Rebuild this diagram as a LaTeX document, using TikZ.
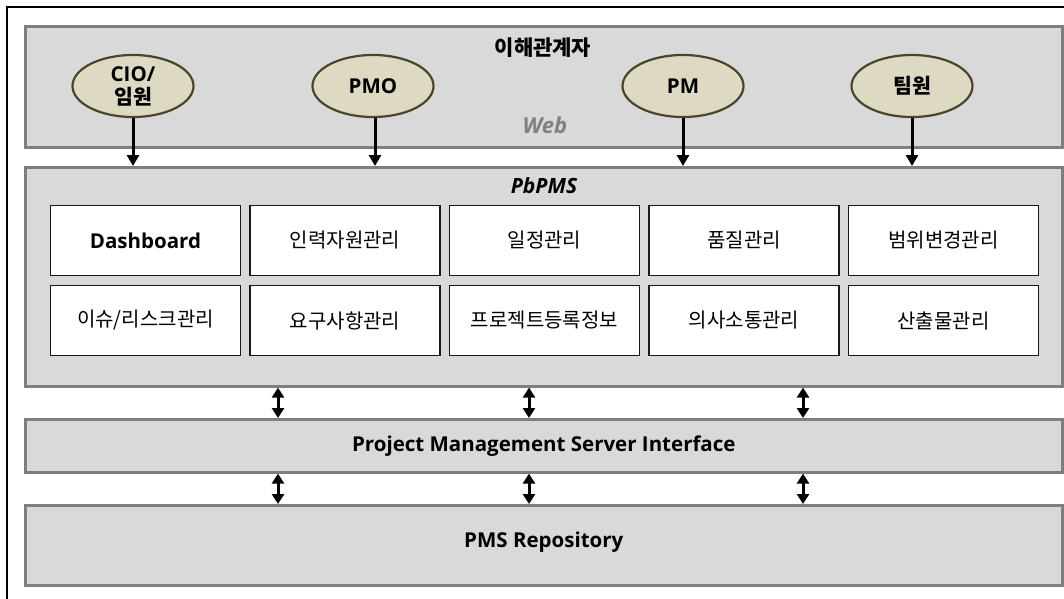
\documentclass[tikz,border=0pt]{standalone}
\usepackage{fontspec}
\setmainfont{Noto Sans CJK KR}[AutoFakeSlant=0.2]
\newfontfamily\latinfont{Open Sans}
\usetikzlibrary{arrows.meta,shapes.geometric,shadows}
\definecolor{panelfill}{HTML}{D9D9D9}
\definecolor{panelline}{HTML}{7F7F7F}
\definecolor{panelshade}{HTML}{A6A6A6}
\definecolor{actorfill}{HTML}{DDD9C3}
\definecolor{actorline}{HTML}{4A452A}
\definecolor{webgray}{HTML}{808080}

\begin{document}
\begin{tikzpicture}[x=1pt,y=-1pt,
  panel/.style={draw=panelline, line width=2.6pt, fill=panelfill, inner sep=0pt,
    anchor=north west, minimum width=1037pt,
    drop shadow={shadow xshift=1.6pt, shadow yshift=-1.6pt, fill=panelshade, opacity=1}},
  actor/.style={ellipse, draw=actorline, line width=2.2pt, fill=actorfill,
    minimum width=121pt, minimum height=62pt, inner sep=0pt,
    font=\bfseries\fontsize{20.5}{23}\selectfont, align=center},
  module/.style={draw=black!90, line width=1.6pt, fill=white,
    minimum width=190pt, minimum height=70pt, inner sep=0pt,
    font=\fontsize{20}{24}\selectfont},
  title/.style={font=\bfseries\fontsize{21}{24}\selectfont, inner sep=0pt},
  lbold/.style={font=\latinfont\bfseries\fontsize{20.5}{23}\selectfont},
  downarrow/.style={line width=3pt, -{Triangle[width=12pt,length=11pt]}},
  biarrow/.style={line width=3pt, {Triangle[width=12pt,length=10pt]}-{Triangle[width=12pt,length=10pt]}}
]
\useasboundingbox (0,0) rectangle (1064,598);
\clip (0,0) rectangle (1064,598);

% outer frame, open towards the right and bottom edges
\draw[line width=2pt] (7,7) rectangle (1120,660);

% layer panels
\node[panel, minimum height=121pt] (stake) at (24,25) {};
\node[panel, minimum height=219pt] (pbpms) at (24,166) {};
\node[panel, minimum height=53pt]  (iface) at (24,418) {};
\node[panel, minimum height=80pt]  (repo)  at (24,504) {};

% panel captions
\node[title] (staketitle) at (543,48) {이해관계자};
\node[title, lbold, font=\latinfont\bfseries\itshape\fontsize{22}{24}\selectfont, text=webgray] (webtitle) at (545,125) {Web};
\node[title, lbold, font=\latinfont\bfseries\itshape\fontsize{21}{24}\selectfont] (pbpmstitle) at (544,186) {PbPMS};
\node[title, lbold] (ifacetitle) at (iface.center) {Project Management Server Interface};
\node[title, lbold] (repotitle) at ([yshift=3pt]repo.center) {PMS Repository};

% stakeholders
\node[actor] (cio) at (133,86) {{\latinfont CIO/}\\임원};
\node[actor, lbold] (pmo) at (373,86) {PMO};
\node[actor, lbold] (pm)  at (683,86) {PM};
\node[actor] (team) at (912,86) {팀원};

% PbPMS modules
\node[module, lbold] (dash) at (145.5,240.5) {Dashboard};
\node[module] (hr)    at (345,240.5)   {인력자원관리};
\node[module] (sched) at (544.5,240.5) {일정관리};
\node[module] (qual)  at (744,240.5)   {품질관리};
\node[module] (scope) at (943.5,240.5) {범위변경관리};
\node[module] (risk)  at (145.5,320.5) {이슈/리스크관리};
\node[module] (req)   at (345,320.5)   {요구사항관리};
\node[module] (proj)  at (544.5,320.5) {프로젝트등록정보};
\node[module] (comm)  at (744,320.5)   {의사소통관리};
\node[module] (deliv) at (943.5,320.5) {산출물관리};

% stakeholder access into PbPMS
\draw[downarrow] (cio.south)  -- (cio.south |- pbpms.north);
\draw[downarrow] ([xshift=2pt]pmo.south) -- ([xshift=2pt]pmo.south |- pbpms.north);
\draw[downarrow] (pm.south)   -- (pm.south |- pbpms.north);
\draw[downarrow] (team.south) -- (team.south |- pbpms.north);

% links between the lower layers
\coordinate (lnkA) at (278,0);
\coordinate (lnkB) at (529,0);
\coordinate (lnkC) at (803,0);
\foreach \c in {lnkA,lnkB,lnkC}{
  \draw[biarrow] (pbpms.south -| \c) -- (iface.north -| \c);
  \draw[biarrow] (iface.south -| \c) -- (repo.north -| \c);
}
\end{tikzpicture}
\end{document}
